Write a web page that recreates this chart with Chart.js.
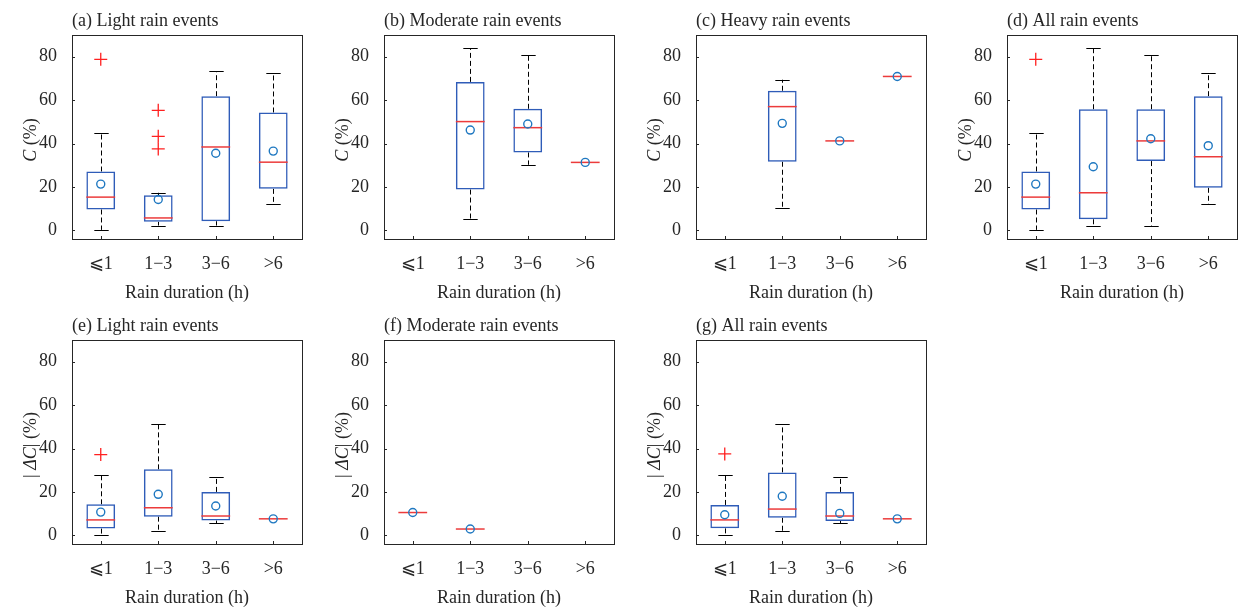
<!DOCTYPE html>
<html>
<head>
<meta charset="utf-8">
<script src="https://cdn.jsdelivr.net/npm/chart.js"></script>
<style>
  body { margin: 0; background: #fff; width: 1238px; height: 609px; position: relative; overflow: hidden; }
  canvas.panel { position: absolute; }
</style>
</head>
<body>
<canvas id="pa" class="panel" width="312" height="305"></canvas>
<canvas id="pb" class="panel" width="312" height="305"></canvas>
<canvas id="pc" class="panel" width="312" height="305"></canvas>
<canvas id="pd" class="panel" width="312" height="305"></canvas>
<canvas id="pe" class="panel" width="312" height="305"></canvas>
<canvas id="pf" class="panel" width="312" height="305"></canvas>
<canvas id="pg" class="panel" width="312" height="305"></canvas>
<script>
const durations = ['⩽1', '1−3', '3−6', '>6'];

// each row: [min, q1, median, q3, max, mean]; null = no events in that class
const lightC = [
  [0.2, 9.6, 15.3, 27.1, 45.0, 21.3],
  [2.2, 3.9, 5.7, 16.2, 17.3, 14.2],
  [2.2, 4.2, 38.4, 61.8, 73.2, 35.5],
  [12.0, 19.1, 31.4, 54.3, 72.4, 36.5]
];
const lightCOutliers = [['⩽1', 78.8], ['1−3', 55.3], ['1−3', 43.3], ['1−3', 37.5]];

const moderateC = [
  null,
  [5.4, 18.8, 50.1, 68.4, 83.9, 46.2],
  [30.2, 35.9, 47.3, 56.0, 80.9, 49.0],
  [31.3, 31.3, 31.3, 31.3, 31.3, 31.3]
];
const moderateCOutliers = [];

const heavyC = [
  null,
  [10.3, 31.6, 57.0, 64.3, 69.4, 49.3],
  [41.2, 41.2, 41.2, 41.2, 41.2, 41.2],
  [70.9, 70.9, 70.9, 70.9, 70.9, 70.9]
];
const heavyCOutliers = [];

const allC = [
  [0.2, 9.6, 15.3, 27.1, 45.0, 21.3],
  [2.2, 5.1, 17.3, 55.8, 84.0, 29.3],
  [2.2, 31.9, 41.2, 55.8, 80.9, 42.2],
  [12.0, 19.6, 33.9, 61.8, 72.3, 39.0]
];
const allCOutliers = [['⩽1', 78.8]];

const lightDC = [
  [0.2, 3.1, 7.1, 14.3, 27.8, 10.7],
  [1.8, 8.6, 12.7, 30.4, 51.1, 18.9],
  [5.5, 6.8, 8.9, 20.0, 26.7, 13.5],
  [7.6, 7.6, 7.6, 7.6, 7.6, 7.6]
];
const lightDCOutliers = [['⩽1', 37.2]];

const moderateDC = [
  [10.5, 10.5, 10.5, 10.5, 10.5, 10.5],
  [2.9, 2.9, 2.9, 2.9, 2.9, 2.9],
  null,
  null
];
const moderateDCOutliers = [];

const allDC = [
  [0.2, 3.2, 7.1, 14.0, 27.8, 9.5],
  [1.8, 8.1, 12.1, 29.0, 51.1, 18.0],
  [5.5, 6.6, 8.9, 20.0, 26.7, 10.1],
  [7.6, 7.6, 7.6, 7.6, 7.6, 7.6]
];
const allDCOutliers = [['⩽1', 37.5]];

const yTicks = [0, 20, 40, 60, 80];

const FONT = 'Liberation Serif, Times New Roman, serif';
const INK = '#262626';
const BOX_BLUE = '#2f5cb8';
const MED_RED = '#ec3b3b';
const MEAN_BLUE = '#1f78c1';

const titleC = [['C', true], [' (%)', false]];
const titleDC = [['| ', false], ['ΔC', true], ['| (%)', false]];

const panels = [
  { id: 'pa', title: '(a) Light rain events',    stats: lightC,     out: lightCOutliers,     yTitle: titleC,  left: 72,   top: 35 },
  { id: 'pb', title: '(b) Moderate rain events', stats: moderateC,  out: moderateCOutliers,  yTitle: titleC,  left: 384,  top: 35 },
  { id: 'pc', title: '(c) Heavy rain events',    stats: heavyC,     out: heavyCOutliers,     yTitle: titleC,  left: 696,  top: 35 },
  { id: 'pd', title: '(d) All rain events',      stats: allC,       out: allCOutliers,       yTitle: titleC,  left: 1007, top: 35 },
  { id: 'pe', title: '(e) Light rain events',    stats: lightDC,    out: lightDCOutliers,    yTitle: titleDC, left: 72,   top: 340 },
  { id: 'pf', title: '(f) Moderate rain events', stats: moderateDC, out: moderateDCOutliers, yTitle: titleDC, left: 384,  top: 340 },
  { id: 'pg', title: '(g) All rain events',      stats: allDC,      out: allDCOutliers,      yTitle: titleDC, left: 696,  top: 340 }
];

// whiskers under the boxes, frame + inward ticks + y title on top
function boxExtras(p) {
  return {
    id: 'boxExtras',
    beforeDatasetsDraw(chart) {
      const { ctx } = chart;
      const x = chart.scales.x, y = chart.scales.y;
      const step = x.getPixelForValue(1) - x.getPixelForValue(0);
      const cap = step * 0.125;
      ctx.save();
      ctx.strokeStyle = '#000';
      ctx.lineWidth = 1;
      p.stats.forEach((r, i) => {
        if (!r) return;
        const cx = Math.round(x.getPixelForValue(i)) + 0.5;
        [[r[1], r[0]], [r[3], r[4]]].forEach(([edge, end]) => {
          if (edge === end) return;
          const ye = y.getPixelForValue(end);
          ctx.setLineDash([5, 3]);
          ctx.beginPath();
          ctx.moveTo(cx, y.getPixelForValue(edge));
          ctx.lineTo(cx, ye);
          ctx.stroke();
          ctx.setLineDash([]);
          ctx.beginPath();
          ctx.moveTo(cx - cap, Math.round(ye) + 0.5);
          ctx.lineTo(cx + cap, Math.round(ye) + 0.5);
          ctx.stroke();
        });
      });
      ctx.restore();
    },
    afterDraw(chart) {
      const { ctx, chartArea: a } = chart;
      const x = chart.scales.x, y = chart.scales.y;
      ctx.save();
      ctx.strokeStyle = INK;
      ctx.lineWidth = 1;
      ctx.strokeRect(Math.round(a.left) + 0.5, Math.round(a.top) + 0.5,
                     Math.round(a.right - a.left), Math.round(a.bottom - a.top));
      ctx.beginPath();
      yTicks.forEach(v => {
        const py = Math.round(y.getPixelForValue(v)) + 0.5;
        ctx.moveTo(a.left, py);
        ctx.lineTo(a.left + 3, py);
      });
      durations.forEach((d, i) => {
        const px = Math.round(x.getPixelForValue(i)) + 0.5;
        ctx.moveTo(px, a.bottom);
        ctx.lineTo(px, a.bottom - 3);
      });
      ctx.stroke();

      // rotated y title with italic symbols
      ctx.fillStyle = INK;
      ctx.textBaseline = 'middle';
      const fontFor = it => (it ? 'italic ' : '') + '18px ' + FONT;
      let total = 0;
      p.yTitle.forEach(([t, it]) => { ctx.font = fontFor(it); total += ctx.measureText(t).width; });
      ctx.translate(a.left - 41, (a.top + a.bottom) / 2 + 3);
      ctx.rotate(-Math.PI / 2);
      let tx = -total / 2;
      p.yTitle.forEach(([t, it]) => {
        ctx.font = fontFor(it);
        ctx.fillText(t, tx, 0);
        tx += ctx.measureText(t).width;
      });
      ctx.restore();
    }
  };
}

function makeChart(p) {
  const cv = document.getElementById(p.id);
  cv.style.left = (p.left - 72) + 'px';
  cv.style.top = (p.top - 35) + 'px';
  const pick = k => p.stats.map((r, i) => (r ? { x: durations[i], y: r[k] } : null)).filter(Boolean);
  const pointSet = { type: 'line', showLine: false, pointHoverRadius: 0 };

  return new Chart(cv, {
    data: {
      labels: durations,
      datasets: [
        {
          type: 'bar', order: 3,
          data: p.stats.map(r => (r ? [r[1], r[3]] : null)),
          backgroundColor: 'rgba(0,0,0,0)',
          borderColor: BOX_BLUE, borderWidth: 1.5, borderSkipped: false,
          barPercentage: 0.5, categoryPercentage: 1
        },
        {
          ...pointSet, order: 2, data: pick(2),
          pointStyle: 'line', pointRadius: 14.4, borderColor: MED_RED, pointBorderWidth: 1.5
        },
        {
          ...pointSet, order: 1, data: p.out.map(([c, v]) => ({ x: c, y: v })),
          pointStyle: 'cross', pointRadius: 6.5, borderColor: '#ff2020', pointBorderWidth: 1.3
        },
        {
          ...pointSet, order: 0, data: pick(5),
          pointStyle: 'circle', pointRadius: 4, borderColor: MEAN_BLUE,
          backgroundColor: 'rgba(255,255,255,0)', pointBorderWidth: 1.4
        }
      ]
    },
    options: {
      responsive: false,
      animation: false,
      layout: { autoPadding: false, padding: { left: 0, right: 10, top: 0, bottom: 0 } },
      plugins: {
        legend: { display: false },
        tooltip: { enabled: false },
        title: {
          display: true, text: p.title, align: 'start', fullSize: false,
          color: INK, font: { family: FONT, size: 18, weight: 'normal' },
          padding: { top: 10, bottom: 3.4 }
        }
      },
      scales: {
        x: {
          type: 'category', offset: true,
          grid: { display: false, drawTicks: false }, border: { display: false },
          ticks: { color: INK, padding: 14, font: { family: FONT, size: 18 } },
          title: {
            display: true, text: 'Rain duration (h)', color: INK,
            font: { family: FONT, size: 18 }, padding: { top: 0, bottom: 1 }
          },
          afterFit(axis) {
            axis.height = 66;
            axis.paddingLeft = 0;
            axis.paddingRight = 0;
          }
        },
        y: {
          min: -4, max: 90,
          grid: { display: false, drawTicks: false }, border: { display: false },
          ticks: {
            stepSize: 20, includeBounds: false, padding: 15, color: INK,
            font: { family: FONT, size: 18 },
            callback: v => (yTicks.includes(v) ? v : '')
          },
          afterFit(axis) { axis.width = 72; }
        }
      }
    },
    plugins: [boxExtras(p)]
  });
}

panels.forEach(makeChart);
</script>
</body>
</html>
